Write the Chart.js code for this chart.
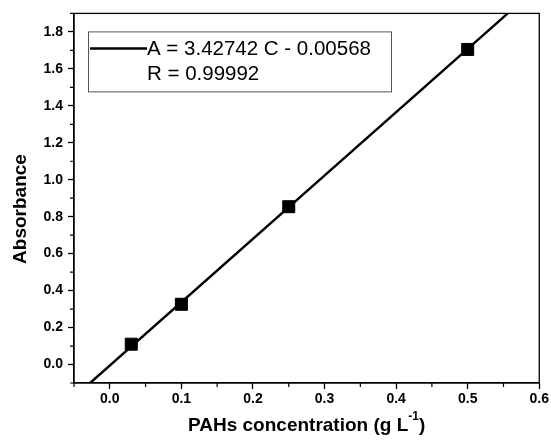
<!DOCTYPE html>
<html>
<head>
<meta charset="utf-8">
<script src="https://cdn.jsdelivr.net/npm/chart.js@4.4.0/dist/chart.umd.min.js"></script>
<style>
  html, body { margin: 0; padding: 0; background: #fff; }
  #wrap { width: 551px; height: 445px; }
</style>
</head>
<body>
<div id="wrap"><canvas id="calib" width="551" height="445"></canvas></div>
<script>
// measured points
const concentration = [0.03, 0.10, 0.25, 0.50];
const absorbance = [0.11, 0.326, 0.854, 1.705];

// fitted line, read where it meets the frame
const fitX = [-0.0275, 0.556];
const fitY = [-0.1, 1.9];

const xTicks = [0.0, 0.1, 0.2, 0.3, 0.4, 0.5, 0.6];
const xMinor = [-0.05, 0.05, 0.15, 0.25, 0.35, 0.45, 0.55];
const yTicks = [0.0, 0.2, 0.4, 0.6, 0.8, 1.0, 1.2, 1.4, 1.6, 1.8];
const yMinor = [-0.1, 0.1, 0.3, 0.5, 0.7, 0.9, 1.1, 1.3, 1.5, 1.7, 1.9];

const legendLines = ["A = 3.42742 C - 0.00568", "R = 0.99992"];
const xTitle = "PAHs concentration (g L";
const xTitleSup = "-1";
const yTitle = "Absorbance";

const FONT = "'Liberation Sans', Arial, sans-serif";

const extras = {
  id: "extras",
  afterDraw(chart) {
    const ctx = chart.ctx;
    const a = chart.chartArea;
    const xs = chart.scales.x, ys = chart.scales.y;
    ctx.save();
    // frame
    ctx.strokeStyle = "#000";
    ctx.lineWidth = 1.3;
    ctx.strokeRect(a.left, a.top, a.right - a.left, a.bottom - a.top);
    // minor ticks
    ctx.lineWidth = 1.2;
    ctx.beginPath();
    xMinor.forEach(v => {
      const px = xs.getPixelForValue(v);
      ctx.moveTo(px, a.bottom);
      ctx.lineTo(px, a.bottom + 4);
    });
    yMinor.forEach(v => {
      const py = ys.getPixelForValue(v);
      ctx.moveTo(a.left, py);
      ctx.lineTo(a.left - 4, py);
    });
    ctx.stroke();

    // legend box
    const bx = a.left + 14, by = a.top + 18, bw = 303, bh = 60;
    ctx.lineWidth = 1;
    ctx.strokeStyle = "#555";
    ctx.strokeRect(bx + 0.5, by + 0.5, bw, bh);
    ctx.strokeStyle = "#000";
    ctx.lineWidth = 2.5;
    ctx.beginPath();
    ctx.moveTo(bx + 2, by + 17);
    ctx.lineTo(bx + 59, by + 17);
    ctx.stroke();
    ctx.fillStyle = "#000";
    ctx.font = "20.5px " + FONT;
    ctx.textBaseline = "middle";
    ctx.textAlign = "left";
    ctx.fillText(legendLines[0], bx + 59, by + 18);
    ctx.fillText(legendLines[1], bx + 59, by + 43);

    // x title with superscript
    ctx.font = "bold 19px " + FONT;
    const w1 = ctx.measureText(xTitle).width;
    ctx.font = "bold 12px " + FONT;
    const w2 = ctx.measureText(xTitleSup).width;
    ctx.font = "bold 19px " + FONT;
    const w3 = ctx.measureText(")").width;
    let tx = (a.left + a.right) / 2 - (w1 + w2 + w3) / 2;
    const ty = 426;
    ctx.fillText(xTitle, tx, ty);
    ctx.font = "bold 12px " + FONT;
    ctx.fillText(xTitleSup, tx + w1, ty - 9);
    ctx.font = "bold 19px " + FONT;
    ctx.fillText(")", tx + w1 + w2, ty);

    // y title
    ctx.translate(21, 209);
    ctx.rotate(-Math.PI / 2);
    ctx.textAlign = "center";
    ctx.fillText(yTitle, 0, 0);
    ctx.restore();
  }
};

new Chart(document.getElementById("calib"), {
  type: "scatter",
  data: {
    datasets: [
      {
        type: "line",
        data: fitX.map((x, i) => ({ x: x, y: fitY[i] })),
        borderColor: "#000",
        borderWidth: 2.4,
        pointRadius: 0,
        fill: false
      },
      {
        data: concentration.map((x, i) => ({ x: x, y: absorbance[i] })),
        pointStyle: "rect",
        pointRadius: 8.5,
        backgroundColor: "#000",
        borderColor: "#000",
        borderWidth: 1
      }
    ]
  },
  options: {
    responsive: false,
    animation: false,
    layout: { padding: { top: 12, right: 11, left: 0, bottom: 0 } },
    scales: {
      x: {
        type: "linear",
        min: -0.05,
        max: 0.6,
        afterBuildTicks: s => { s.ticks = xTicks.map(v => ({ value: v })); },
        afterFit: s => { s.height = 62; },
        grid: { drawOnChartArea: false, tickLength: 6, tickColor: "#000", tickWidth: 1.3 },
        border: { display: true, color: "#000", width: 1.3 },
        ticks: {
          padding: 2,
          color: "#000",
          font: { family: FONT, size: 14, weight: "bold" },
          callback: v => v.toFixed(1),
          maxRotation: 0
        }
      },
      y: {
        type: "linear",
        min: -0.1,
        max: 1.9,
        afterBuildTicks: s => { s.ticks = yTicks.map(v => ({ value: v })); },
        afterFit: s => { s.width = 74; },
        grid: { drawOnChartArea: false, tickLength: 6, tickColor: "#000", tickWidth: 1.3 },
        border: { display: true, color: "#000", width: 1.3 },
        ticks: {
          padding: 5,
          color: "#000",
          font: { family: FONT, size: 14, weight: "bold" },
          callback: v => v.toFixed(1)
        }
      }
    },
    plugins: {
      legend: { display: false },
      tooltip: { enabled: false }
    }
  },
  plugins: [extras]
});
</script>
</body>
</html>
